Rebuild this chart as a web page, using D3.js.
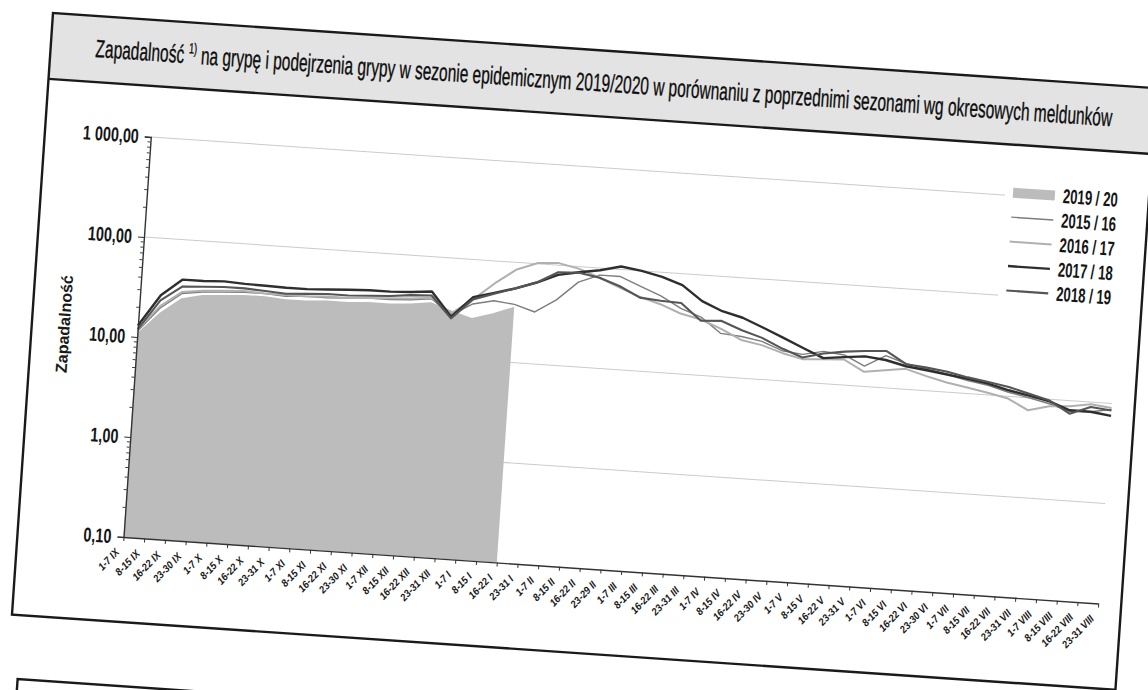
<!DOCTYPE html>
<html>
<head>
<meta charset="utf-8">
<script src="https://cdn.jsdelivr.net/npm/d3@7"></script>
<style>
  body { margin: 0; background: #fff; }
  svg { display: block; }
  text { font-family: 'Liberation Sans', Arial, sans-serif; }
</style>
</head>
<body>
<div id="canvas"></div>
<script>
const periods = [
  '1-7 IX', '8-15 IX', '16-22 IX', '23-30 IX',
  '1-7 X', '8-15 X', '16-22 X', '23-31 X',
  '1-7 XI', '8-15 XI', '16-22 XI', '23-30 XI',
  '1-7 XII', '8-15 XII', '16-22 XII', '23-31 XII',
  '1-7 I', '8-15 I', '16-22 I', '23-31 I',
  '1-7 II', '8-15 II', '16-22 II', '23-29 II',
  '1-7 III', '8-15 III', '16-22 III', '23-31 III',
  '1-7 IV', '8-15 IV', '16-22 IV', '23-30 IV',
  '1-7 V', '8-15 V', '16-22 V', '23-31 V',
  '1-7 VI', '8-15 VI', '16-22 VI', '23-30 VI',
  '1-7 VII', '8-15 VII', '16-22 VII', '23-31 VII',
  '1-7 VIII', '8-15 VIII', '16-22 VIII', '23-31 VIII'
]

// sezon 2019/20 (dane do 16-22 I)
const s2019 = [11, 18, 26, 29, 30, 31, 31, 30, 30, 31, 31, 32, 32, 33, 35, 30, 26, 30, 36]

const s2015 = [11.5, 20, 29, 31, 32, 33, 33, 32, 33, 33, 34, 35, 35, 36, 38, 27,
  36, 40, 38, 33, 45, 70, 85, 85, 70, 58, 45, 38, 27, 26, 24, 20,
  19, 21, 20, 16, 21, 18, 16.5, 15, 13.5, 12.5, 11, 10, 9, 7.8, 8, 8.7]
const s2016 = [12, 21, 30, 32, 33, 34, 33, 33, 33, 34, 34, 35, 36, 37, 39, 28,
  40, 60, 85, 102, 105, 95, 80, 66, 55, 48, 40, 36, 30, 24, 22, 19,
  17, 17.5, 18, 14, 15, 16, 14, 12.5, 11.5, 10.5, 9.5, 7.5, 8.5, 8.8, 9.5, 9]
const s2017 = [13, 27, 40, 40, 41, 40, 39.5, 39, 39, 40, 41, 42, 42, 43, 45, 26,
  42, 48, 55, 65, 80, 88, 95, 107, 100, 90, 77, 55, 45, 40, 33, 27,
  22, 18, 19, 20, 19, 17, 16, 15, 14, 13, 11.5, 10.5, 9.5, 8, 8, 7.5]
const s2018 = [12, 24, 34, 35, 36, 36, 35, 34, 35, 36, 36, 37, 38, 40, 41, 25,
  40, 47, 55, 65, 85, 87, 80, 68, 54, 52, 51, 35, 36, 30, 26, 21,
  17.7, 20, 21.6, 22.6, 23.4, 17.8, 17, 16, 14.5, 13.5, 12.4, 11, 9.7, 7.4, 8.9, 8.5]

const yTicks = [0.1, 1, 10, 100, 1000]
const yTickLabels = ['0,10', '1,00', '10,00', '100,00', '1 000,00']

const lineSeries = [
  { name: '2015 / 16', values: s2015, color: '#7d7d7d', w: 1.4 },
  { name: '2016 / 17', values: s2016, color: '#b0b0b0', w: 2 },
  { name: '2017 / 18', values: s2017, color: '#2e2e2e', w: 2.4 },
  { name: '2018 / 19', values: s2018, color: '#555555', w: 2.1 }
]

// squeeze text horizontally to look like a narrow font
function narrow(sel, k) {
  sel.each(function () {
    const w = this.getComputedTextLength()
    d3.select(this).attr('textLength', w * k).attr('lengthAdjust', 'spacingAndGlyphs')
  })
}

const width = 1148
const height = 690
const svg = d3.select('#canvas').append('svg')
  .attr('width', width)
  .attr('height', height)

// scanned page is slightly rotated
const page = svg.append('g').attr('transform', 'translate(53,13) rotate(3.9)')

const boxW = 1106
const boxH = 603
const titleH = 66

page.append('rect')
  .attr('width', boxW).attr('height', titleH)
  .attr('fill', '#e3e3e3')
page.append('rect')
  .attr('width', boxW).attr('height', boxH)
  .attr('fill', 'none').attr('stroke', '#1a1a1a').attr('stroke-width', 2.4)
page.append('line')
  .attr('x1', 0).attr('x2', boxW).attr('y1', titleH).attr('y2', titleH)
  .attr('stroke', '#1a1a1a').attr('stroke-width', 2.4)

// next chart box below
page.append('path')
  .attr('d', `M10,${boxH + 160} V667 H${boxW + 20}`)
  .attr('fill', 'none').attr('stroke', '#1a1a1a').attr('stroke-width', 2.4)

// title
const title = page.append('text')
  .attr('font-size', 25)
  .attr('fill', '#0d0d0d')
  .attr('stroke', '#0d0d0d').attr('stroke-width', 0.35)
title.append('tspan').text('Zapadalność ')
title.append('tspan').attr('font-size', 15).attr('dy', -10).text('1)')
title.append('tspan').attr('dy', 10)
  .text(' na grypę i podejrzenia grypy w sezonie epidemicznym 2019/2020 w porównaniu z poprzednimi sezonami wg okresowych meldunków')
const tw = title.node().getComputedTextLength()
title.attr('transform', `translate(45,41) scale(${1019 / tw},1)`)

const iw = 977
const ih = 401
const g = page.append('g').attr('transform', 'translate(106,117)')

const x = d3.scalePoint().domain(periods).range([0, iw])
const y = d3.scaleLog().domain([0.1, 1000]).range([ih, 0])

// gridlines
g.append('g')
  .selectAll('line')
  .data(yTicks.slice(1))
  .join('line')
  .attr('x1', 0).attr('x2', iw)
  .attr('y1', (d) => y(d)).attr('y2', (d) => y(d))
  .attr('stroke', '#cbcbcb').attr('stroke-width', 1)

// 2019/20 area
const area = d3.area()
  .x((d, i) => x(periods[i]))
  .y0(y(0.1))
  .y1((d) => y(d))
g.append('path')
  .datum(s2019)
  .attr('d', area)
  .attr('fill', '#bcbcbc')

// lines for previous seasons
const line = d3.line()
  .x((d, i) => x(periods[i]))
  .y((d) => y(d))
g.selectAll('.season')
  .data(lineSeries)
  .join('path')
  .attr('class', 'season')
  .attr('d', (d) => line(d.values))
  .attr('fill', 'none')
  .attr('stroke', (d) => d.color)
  .attr('stroke-width', (d) => d.w)
  .attr('stroke-linejoin', 'round')

// y axis with minor ticks
const minor = []
for (let e = -1; e < 3; e++) {
  for (let m = 2; m < 10; m++) minor.push(m * Math.pow(10, e))
}
g.append('g')
  .call(d3.axisLeft(y).tickValues(minor).tickSize(3).tickFormat(''))
  .call((a) => a.select('.domain').remove())
  .selectAll('line').attr('stroke', '#444')

const yAxis = g.append('g')
  .call(d3.axisLeft(y).tickValues(yTicks).tickSize(6).tickPadding(6)
    .tickFormat((d, i) => yTickLabels[i]))
yAxis.select('.domain').attr('stroke', '#333').attr('stroke-width', 1.4)
yAxis.selectAll('line').attr('stroke', '#333')
yAxis.selectAll('text')
  .attr('font-size', 20)
  .attr('font-weight', 'bold')
  .attr('fill', '#151515')
  .attr('font-family', "'Liberation Sans', Arial, sans-serif")
  .call(narrow, 0.72)

// x axis
const xAxis = g.append('g')
  .attr('transform', `translate(0,${ih})`)
  .call(d3.axisBottom(x).tickSize(4).tickSizeOuter(0))
xAxis.select('.domain').attr('stroke', '#333').attr('stroke-width', 1.4)
xAxis.selectAll('line').attr('stroke', '#333')
xAxis.selectAll('text')
  .attr('font-size', 10.5)
  .attr('font-weight', 'bold')
  .attr('font-style', 'italic')
  .attr('fill', '#1a1a1a')
  .attr('font-family', "'Liberation Sans', Arial, sans-serif")
  .attr('text-anchor', 'end')
  .attr('dy', null)
  .attr('y', 0)
  .attr('transform', 'translate(-3,16) rotate(-50)')
  .call(narrow, 0.9)

// y axis title
g.append('text')
  .attr('transform', `translate(-68,${ih / 2 - 8}) rotate(-90)`)
  .attr('text-anchor', 'middle')
  .attr('font-size', 16)
  .attr('font-weight', 'bold')
  .attr('fill', '#1a1a1a')
  .text('Zapadalność')

// legend
const legendItems = [{ name: '2019 / 20', area: true }].concat(lineSeries)
const legend = page.append('g').attr('transform', 'translate(966,114)')
legend.append('rect')
  .attr('x', -4).attr('y', -14).attr('width', 122).attr('height', 126)
  .attr('fill', '#fff')
legendItems.forEach((d, i) => {
  const row = legend.append('g').attr('transform', `translate(0,${i * 24.5})`)
  if (d.area) {
    row.append('rect')
      .attr('x', 4).attr('y', -5).attr('width', 42).attr('height', 10)
      .attr('fill', '#bcbcbc')
  } else {
    row.append('line')
      .attr('x1', 4).attr('x2', 46)
      .attr('stroke', d.color).attr('stroke-width', d.w)
  }
  row.append('text')
    .attr('x', 54).attr('y', 7)
    .attr('font-size', 20)
    .attr('font-weight', 'bold')
    .attr('fill', '#151515')
    .text(d.name)
    .call(narrow, 0.66)
})
</script>
</body>
</html>
